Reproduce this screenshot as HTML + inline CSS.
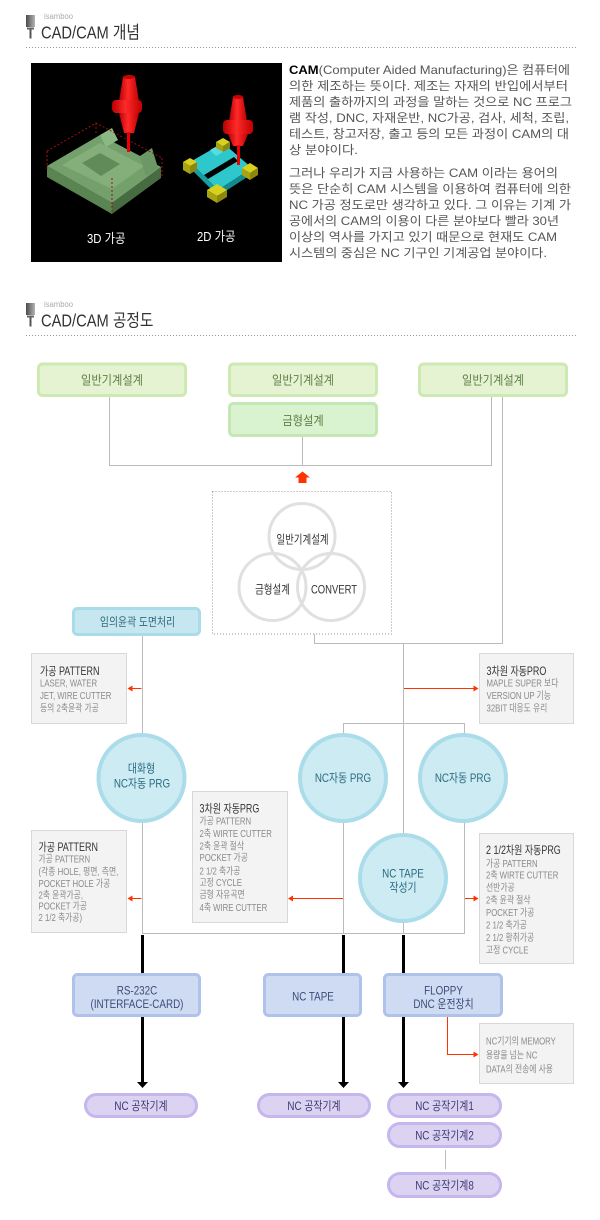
<!DOCTYPE html>
<html><head><meta charset="utf-8">
<style>
html,body{margin:0;padding:0;background:#fff;}
svg{display:block;}
text{font-family:"Liberation Sans","Noto Sans CJK KR",sans-serif;}
</style></head><body>
<svg width="600" height="1220" viewBox="0 0 600 1220" xmlns="http://www.w3.org/2000/svg">
<defs>
<linearGradient id="ic" x1="0" y1="0" x2="1" y2="0"><stop offset="0" stop-color="#4a4a4a"/><stop offset="1" stop-color="#b5b5b5"/></linearGradient>
<linearGradient id="rd" x1="0" y1="0" x2="1" y2="0"><stop offset="0" stop-color="#b80000"/><stop offset="0.45" stop-color="#ff2a2a"/><stop offset="1" stop-color="#c00000"/></linearGradient>
</defs>

<!-- Header 1 -->
<rect x="26" y="15" width="9" height="12" fill="url(#ic)"/>
<rect x="27" y="27.5" width="7" height="2" fill="#666"/>
<rect x="29.5" y="29" width="2" height="9.5" fill="#555"/>
<text x="44" y="19" font-size="8" fill="#aaa" textLength="29" lengthAdjust="spacingAndGlyphs">isamboo</text>
<text transform="translate(41 38.5) scale(0.84 1)" font-size="17.5" fill="#333">CAD/CAM 개념</text>
<line x1="26" y1="47.5" x2="578" y2="47.5" stroke="#999" stroke-dasharray="1 2"/>

<!-- Image -->
<rect x="31" y="63" width="251" height="199" fill="#000"/>
<!-- green block -->
<polygon points="47,166 112,203 112,214 47,177" fill="#5a8552"/>
<polygon points="112,203 161,167 161,178 112,214" fill="#476c42"/>
<polygon points="47,166 100,135 161,167 112,203" fill="#74a06c"/>
<polygon points="62,165 100,143 144,166 112,189" fill="#84af7b"/>
<polygon points="82,163 100,153 120,164 101,176" fill="#5f8c58"/>
<polygon points="100,135 112,128 118,140 106,147" fill="#8cb883"/>
<polygon points="140,156 152,148 158,168 146,176" fill="#6c9865"/>
<g stroke="#a01010" stroke-width="1" stroke-dasharray="2 2" fill="none">
<polyline points="47,151 96,123 162,158"/>
<line x1="47" y1="151" x2="47" y2="170"/>
<line x1="162" y1="158" x2="162" y2="176"/>
<line x1="96" y1="123" x2="96" y2="134"/>
<line x1="112" y1="178" x2="112" y2="212"/>
</g>
<!-- tool 1 -->
<polygon points="123,77 135,77 139,101 119,101" fill="url(#rd)"/>
<ellipse cx="129" cy="77" rx="6" ry="2" fill="#c00"/>
<rect x="112" y="100" width="30" height="13" rx="4" fill="url(#rd)"/>
<polygon points="119,113 139,113 134,133 124,133" fill="url(#rd)"/>
<rect x="127" y="132" width="3" height="20" fill="#e00"/>
<!-- cyan part -->
<polygon points="190,162 223,143 252,168 218,190" fill="#2ec8cc"/>
<polygon points="190,162 218,190 218,196 190,168" fill="#169ea3"/>
<polygon points="218,190 252,168 252,174 218,196" fill="#128a8f"/>
<polygon points="204,175 234,157 238,161 208,179" fill="#000"/>
<polygon points="210,150 224,142 230,148 216,156" fill="#55dde0"/>
<!-- yellow cubes -->
<g>
<polygon points="216,142 223,138 230,142 223,146" fill="#d8d21e"/><polygon points="216,142 223,146 223,152 216,148" fill="#a9a312"/><polygon points="223,146 230,142 230,148 223,152" fill="#8c870e"/>
<polygon points="183,162 190,158 197,162 190,166" fill="#d8d21e"/><polygon points="183,162 190,166 190,174 183,170" fill="#a9a312"/><polygon points="190,166 197,162 197,170 190,174" fill="#8c870e"/>
<polygon points="207,190 217,184 227,190 217,196" fill="#d8d21e"/><polygon points="207,190 217,196 217,203 207,197" fill="#a9a312"/><polygon points="217,196 227,190 227,197 217,203" fill="#8c870e"/>
<polygon points="242,168 250,163 258,168 250,173" fill="#d8d21e"/><polygon points="242,168 250,173 250,180 242,175" fill="#a9a312"/><polygon points="250,173 258,168 258,175 250,180" fill="#8c870e"/>
</g>
<!-- tool 2 -->
<polygon points="233,97 243,97 247,121 229,121" fill="url(#rd)"/>
<ellipse cx="238" cy="97" rx="5" ry="2" fill="#c00"/>
<rect x="223" y="120" width="30" height="14" rx="4" fill="url(#rd)"/>
<polygon points="228,134 248,134 243,146 233,146" fill="url(#rd)"/>
<rect x="237" y="145" width="3" height="20" fill="#e00"/>
<text transform="translate(87 243) scale(0.87 1)" font-size="13" fill="#fff">3D 가공</text>
<text transform="translate(197 241) scale(0.87 1)" font-size="13" fill="#fff">2D 가공</text>

<!-- Paragraphs -->
<g font-size="12" fill="#555">
<text x="289" y="74" textLength="281" lengthAdjust="spacingAndGlyphs"><tspan font-weight="bold" fill="#000">CAM</tspan>(Computer Aided Manufacturing)은 컴퓨터에</text>
<text x="289" y="90" textLength="279" lengthAdjust="spacingAndGlyphs">의한 제조하는 뜻이다. 제조는 자재의 반입에서부터</text>
<text x="289" y="106" textLength="283" lengthAdjust="spacingAndGlyphs">제품의 출하까지의 과정을 말하는 것으로 NC 프로그</text>
<text x="289" y="122" textLength="280" lengthAdjust="spacingAndGlyphs">램 작성, DNC, 자재운반, NC가공, 검사, 세척, 조립,</text>
<text x="289" y="138" textLength="280" lengthAdjust="spacingAndGlyphs">테스트, 창고저장, 출고 등의 모든 과정이 CAM의 대</text>
<text x="289" y="154" textLength="69" lengthAdjust="spacingAndGlyphs">상 분야이다.</text>
<text x="289" y="177" textLength="269" lengthAdjust="spacingAndGlyphs">그러나 우리가 지금 사용하는 CAM 이라는 용어의</text>
<text x="289" y="193" textLength="282" lengthAdjust="spacingAndGlyphs">뜻은 단순히 CAM 시스템을 이용하여 컴퓨터에 의한</text>
<text x="289" y="209" textLength="282" lengthAdjust="spacingAndGlyphs">NC 가공 정도로만 생각하고 있다. 그 이유는 기계 가</text>
<text x="289" y="225" textLength="270" lengthAdjust="spacingAndGlyphs">공에서의 CAM의 이용이 다른 분야보다 빨라 30년</text>
<text x="289" y="241" textLength="268" lengthAdjust="spacingAndGlyphs">이상의 역사를 가지고 있기 때문으로 현재도 CAM</text>
<text x="289" y="257" textLength="258" lengthAdjust="spacingAndGlyphs">시스템의 중심은 NC 기구인 기계공업 분야이다.</text>
</g>

<!-- Header 2 -->
<rect x="26" y="303" width="9" height="12" fill="url(#ic)"/>
<rect x="27" y="315.5" width="7" height="2" fill="#666"/>
<rect x="29.5" y="317" width="2" height="9.5" fill="#555"/>
<text x="44" y="307" font-size="8" fill="#aaa" textLength="29" lengthAdjust="spacingAndGlyphs">isamboo</text>
<text transform="translate(41 326.5) scale(0.84 1)" font-size="17.5" fill="#333">CAD/CAM 공정도</text>
<line x1="26" y1="335.5" x2="578" y2="335.5" stroke="#999" stroke-dasharray="1 2"/>

<!-- gray connector lines -->
<path d="M109.5 397V465.5H491.5V397 M302.5 437V465.5 M502.5 397V643.5H314.5V634 M403.5 643.5V933.5 M142.5 636V933.5H464.5V723.5H343.5V933.5 M445.5 1150V1169" fill="none" stroke="#bbb" stroke-width="1"/>

<!-- green boxes -->
<g fill="#e5f3d3" stroke="#cdeab2" stroke-width="3">
<rect x="38.5" y="364" width="147" height="31.5" rx="4"/>
<rect x="229.5" y="364" width="147" height="31.5" rx="4"/>
<rect x="419.5" y="364" width="147" height="31.5" rx="4"/>
<rect x="229.5" y="403.5" width="147" height="32" rx="4" fill="#d9f2cf" stroke="#c4e8b3"/>
</g>
<g font-size="12.5" fill="#5e7f44" text-anchor="middle">
<text transform="translate(112 384.5) scale(0.9 1)">일반기계설계</text>
<text transform="translate(303 384.5) scale(0.9 1)">일반기계설계</text>
<text transform="translate(493 384.5) scale(0.9 1)">일반기계설계</text>
<text transform="translate(303 425) scale(0.9 1)">금형설계</text>
</g>

<!-- up arrow -->
<polygon points="295,477.5 302.5,471.5 310,477.5" fill="#ff3300"/>
<rect x="298.5" y="477" width="8" height="6" fill="#ff3300"/>

<!-- dotted box & venn -->
<rect x="212.5" y="491.5" width="179" height="142.5" fill="none" stroke="#999" stroke-dasharray="1 2"/>
<g fill="none" stroke="#e0e0e0" stroke-width="3">
<circle cx="302" cy="536.5" r="33"/>
<circle cx="272.5" cy="587" r="33.5"/>
<circle cx="331" cy="587" r="33.5"/>
</g>
<g font-size="12" fill="#333" text-anchor="middle">
<text transform="translate(302.5 543.5) scale(0.79 1)">일반기계설계</text>
<text transform="translate(272.5 593.5) scale(0.79 1)">금형설계</text>
<text transform="translate(334 593.5) scale(0.79 1)">CONVERT</text>
</g>

<!-- 임의윤곽 -->
<rect x="73.5" y="608.5" width="126" height="26" rx="4" fill="#c6e7f0" stroke="#a9dbe9" stroke-width="3"/>
<text transform="translate(137.5 626) scale(0.82 1)" font-size="12" fill="#2f6a7d" text-anchor="middle">임의윤곽 도면처리</text>

<!-- red arrows -->
<g stroke="#ff3300" stroke-width="1" fill="none">
<line x1="141.5" y1="688.5" x2="131" y2="688.5"/>
<line x1="404" y1="688.5" x2="475" y2="688.5"/>
<line x1="141.5" y1="898.5" x2="131" y2="898.5"/>
<line x1="343" y1="898.5" x2="291" y2="898.5"/>
<line x1="465" y1="898.5" x2="475" y2="898.5"/>
<path d="M447.5 1017V1054.5H475"/>
</g>
<g fill="#ff3300">
<polygon points="127.5,688.5 132.5,685.5 132.5,691.5"/>
<polygon points="478.5,688.5 473.5,685.5 473.5,691.5"/>
<polygon points="127.5,898.5 132.5,895.5 132.5,901.5"/>
<polygon points="288,898.5 293,895.5 293,901.5"/>
<polygon points="478.5,898.5 473.5,895.5 473.5,901.5"/>
<polygon points="478.5,1054.5 473.5,1051.5 473.5,1057.5"/>
</g>

<!-- gray info boxes -->
<g fill="#f3f3f3" stroke="#d8d8d8" stroke-width="1">
<rect x="31.5" y="653.5" width="95" height="70"/>
<rect x="479.5" y="653.5" width="94" height="70"/>
<rect x="192.5" y="791.5" width="95" height="131"/>
<rect x="31.5" y="830.5" width="95" height="102"/>
<rect x="479.5" y="833.5" width="94" height="130"/>
<rect x="479.5" y="1023.5" width="94" height="60"/>
</g>

<g transform="translate(40 0) scale(0.78 1)">
<text x="0" y="675" font-size="11.5" fill="#333">가공 PATTERN</text>
<g font-size="10" fill="#8a8a8a">
<text x="0" y="686.5">LASER, WATER</text>
<text x="0" y="699">JET, WIRE CUTTER</text>
<text x="0" y="711.5">등의 2축윤곽 가공</text>
</g></g>

<g transform="translate(486.5 0) scale(0.78 1)">
<text x="0" y="675" font-size="11.5" fill="#333">3차원 자동PRO</text>
<g font-size="10" fill="#8a8a8a">
<text x="0" y="686.5">MAPLE SUPER 보다</text>
<text x="0" y="699">VERSION UP 기능</text>
<text x="0" y="711.5">32BIT 대응도 유리</text>
</g></g>

<g transform="translate(199.5 0) scale(0.78 1)">
<text x="0" y="812.5" font-size="11.5" fill="#333">3차원 자동PRG</text>
<g font-size="10" fill="#8a8a8a">
<text x="0" y="824.5">가공 PATTERN</text>
<text x="0" y="837">2축 WIRTE CUTTER</text>
<text x="0" y="849.5">2축 윤곽 절삭</text>
<text x="0" y="861">POCKET 가공</text>
<text x="0" y="874.5">2 1/2 축가공</text>
<text x="0" y="886">고정 CYCLE</text>
<text x="0" y="898">금형 자유곡면</text>
<text x="0" y="911">4축 WIRE CUTTER</text>
</g></g>

<g transform="translate(38.5 0) scale(0.78 1)">
<text x="0" y="851" font-size="11.5" fill="#333">가공 PATTERN</text>
<g font-size="10" fill="#8a8a8a">
<text x="0" y="862.5">가공 PATTERN</text>
<text x="0" y="875">(각종 HOLE, 평면, 측면,</text>
<text x="0" y="887">POCKET HOLE 가공</text>
<text x="0" y="898.5">2축 윤곽가공,</text>
<text x="0" y="909.5">POCKET 가공</text>
<text x="0" y="921">2 1/2 축가공)</text>
</g></g>

<g transform="translate(486 0) scale(0.78 1)">
<text x="0" y="854" font-size="11.5" fill="#333">2 1/2차원 자동PRG</text>
<g font-size="10" fill="#8a8a8a">
<text x="0" y="867">가공 PATTERN</text>
<text x="0" y="878.5">2축 WIRTE CUTTER</text>
<text x="0" y="891">선반가공</text>
<text x="0" y="903.5">2축 윤곽 절삭</text>
<text x="0" y="916">POCKET 가공</text>
<text x="0" y="928.5">2 1/2 축가공</text>
<text x="0" y="941">2 1/2 황취가공</text>
<text x="0" y="953.5">고정 CYCLE</text>
</g></g>

<g transform="translate(486 0) scale(0.78 1)" font-size="10" fill="#8a8a8a">
<text x="0" y="1044.5">NC기기의 MEMORY</text>
<text x="0" y="1058.5">용량을 넘는 NC</text>
<text x="0" y="1072.5">DATA의 전송에 사용</text>
</g>

<!-- blue circles -->
<g fill="#cdebf3" stroke="#abdcea" stroke-width="4">
<circle cx="141.5" cy="778" r="43"/>
<circle cx="343" cy="778" r="43"/>
<circle cx="463" cy="778" r="43"/>
<circle cx="403" cy="878" r="43"/>
</g>
<g font-size="12" fill="#2b6a80" text-anchor="middle">
<text transform="translate(141.5 772.5) scale(0.82 1)">대화형</text>
<text transform="translate(142 787.5) scale(0.82 1)">NC자동 PRG</text>
<text transform="translate(343 782) scale(0.82 1)">NC자동 PRG</text>
<text transform="translate(463 782) scale(0.82 1)">NC자동 PRG</text>
<text transform="translate(403 877.5) scale(0.82 1)">NC TAPE</text>
<text transform="translate(403 891.5) scale(0.82 1)">작성기</text>
</g>

<!-- black arrows -->
<g stroke="#000" stroke-width="3">
<line x1="142.5" y1="935" x2="142.5" y2="1083"/>
<line x1="343.5" y1="935" x2="343.5" y2="1083"/>
<line x1="403.5" y1="935" x2="403.5" y2="1083"/>
</g>
<g fill="#000">
<polygon points="137,1082 148,1082 142.5,1088"/>
<polygon points="338,1082 349,1082 343.5,1088"/>
<polygon points="398,1082 409,1082 403.5,1088"/>
</g>

<!-- blue boxes -->
<g fill="#cfdbf3" stroke="#afc2ea" stroke-width="3">
<rect x="73.5" y="974.5" width="126" height="41" rx="4"/>
<rect x="264.5" y="974.5" width="96" height="41" rx="4"/>
<rect x="384.5" y="974.5" width="117" height="41" rx="4"/>
</g>
<g font-size="12" fill="#3c4a78" text-anchor="middle">
<text transform="translate(137 994.5) scale(0.82 1)">RS-232C</text>
<text transform="translate(137 1008) scale(0.82 1)">(INTERFACE-CARD)</text>
<text transform="translate(313 1000.5) scale(0.82 1)">NC TAPE</text>
<text transform="translate(443.5 994.5) scale(0.82 1)">FLOPPY</text>
<text transform="translate(443.5 1008) scale(0.82 1)">DNC 운전장치</text>
</g>

<!-- pills -->
<g fill="#dcd3f3" stroke="#c5b6ec" stroke-width="3">
<rect x="85.5" y="1094.5" width="111" height="22" rx="11"/>
<rect x="258.5" y="1094.5" width="111" height="22" rx="11"/>
<rect x="388.5" y="1094.5" width="112" height="22" rx="11"/>
<rect x="388.5" y="1123.5" width="112" height="23" rx="11.5"/>
<rect x="388.5" y="1173.5" width="112" height="23" rx="11.5"/>
</g>
<g font-size="12" fill="#3a3a6e" text-anchor="middle">
<text transform="translate(141 1110) scale(0.82 1)">NC 공작기계</text>
<text transform="translate(314 1110) scale(0.82 1)">NC 공작기계</text>
<text transform="translate(444.5 1110) scale(0.82 1)">NC 공작기계1</text>
<text transform="translate(444.5 1139.5) scale(0.82 1)">NC 공작기계2</text>
<text transform="translate(444.5 1189.5) scale(0.82 1)">NC 공작기계8</text>
</g>
</svg>
</body></html>
